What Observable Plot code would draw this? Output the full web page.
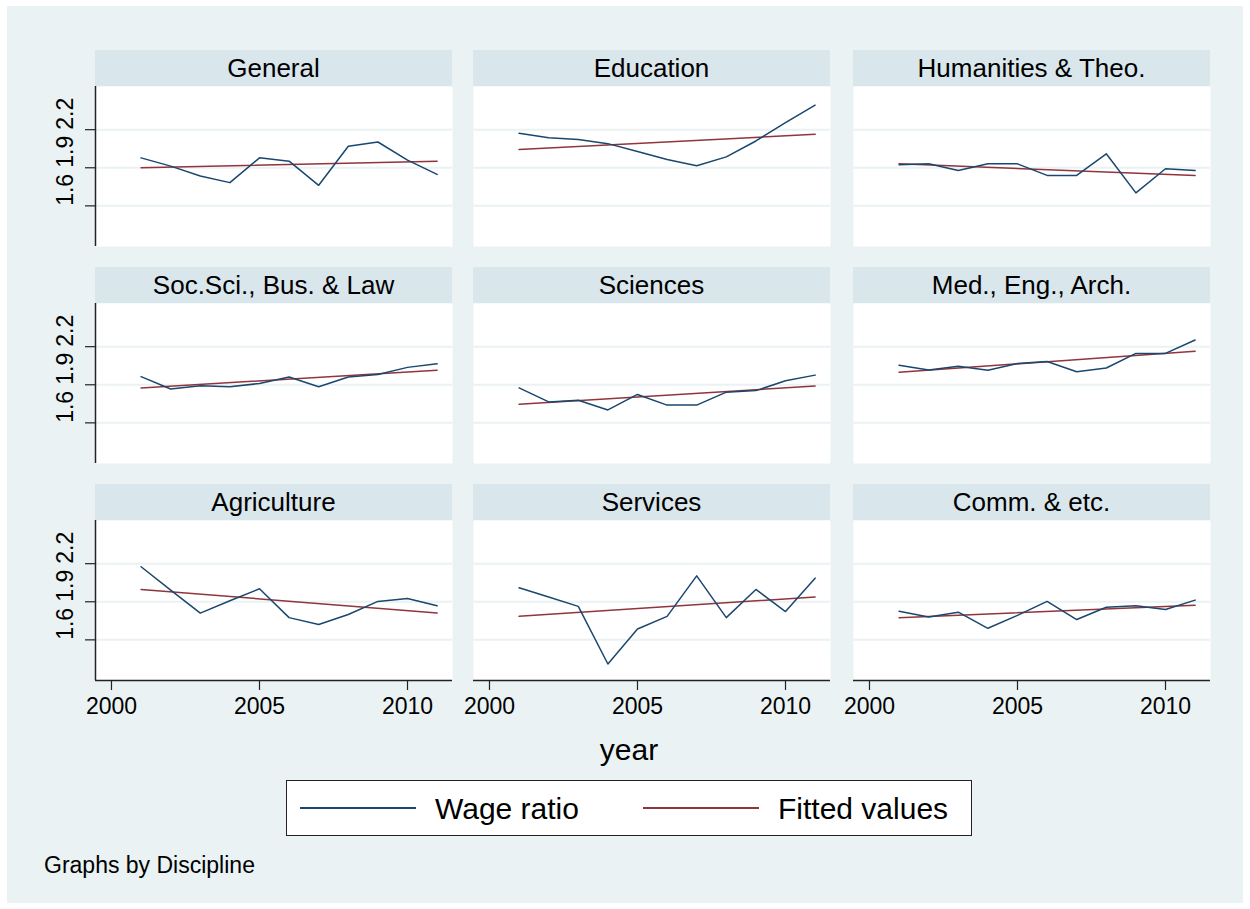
<!DOCTYPE html>
<html>
<head>
<meta charset="utf-8">
<script src="https://cdn.jsdelivr.net/npm/d3@7"></script>
<script src="https://cdn.jsdelivr.net/npm/@observablehq/plot@0.6"></script>
<style>
  html, body { margin: 0; padding: 0; background: #ffffff; width: 1250px; height: 909px; overflow: hidden; }
  body { position: relative; font-family: "Liberation Sans", Arial, sans-serif; color: #000; }
  #bg { position: absolute; left: 7px; top: 6px; width: 1236px; height: 897px; background: #EAF2F3; }
  .abs { position: absolute; }
  .strip { position: absolute; background: #D9E6EB; height: 36px; width: 357px; font-size: 26px; line-height: 36px; text-align: center; white-space: nowrap; }
  .panel { position: absolute; }
  #xtitle { position: absolute; left: 429px; width: 400px; top: 731px; font-size: 30px; line-height: 38px; text-align: center; }
  #legend { position: absolute; left: 286px; top: 780px; width: 684px; height: 54px; background: #fff; border: 1px solid #222; }
  #caption { position: absolute; left: 44px; top: 851px; font-size: 23px; line-height: 28px; }
</style>
</head>
<body>
<div id="bg"></div>
<div id="root"></div>
<div id="xtitle">year</div>
<div id="legend"></div>
<div id="caption">Graphs by Discipline</div>
<script>
// ---- data ----
const disciplines = ["General", "Education", "Humanities & Theo.",
  "Soc.Sci., Bus. & Law", "Sciences", "Med., Eng., Arch.",
  "Agriculture", "Services", "Comm. & etc."];
const years = [2001, 2002, 2003, 2004, 2005, 2006, 2007, 2008, 2009, 2010, 2011];

const wageGeneral    = [1.978, 1.913, 1.835, 1.783, 1.978, 1.952, 1.762, 2.070, 2.103, 1.960, 1.848];
const wageEducation  = [2.171, 2.137, 2.122, 2.090, 2.028, 1.965, 1.916, 1.986, 2.111, 2.255, 2.393];
const wageHumanities = [1.923, 1.931, 1.879, 1.931, 1.931, 1.840, 1.840, 2.010, 1.702, 1.892, 1.879];
const wageSocSci     = [1.964, 1.867, 1.892, 1.885, 1.910, 1.961, 1.885, 1.961, 1.981, 2.037, 2.065];
const wageSciences   = [1.875, 1.765, 1.778, 1.702, 1.824, 1.740, 1.740, 1.842, 1.854, 1.931, 1.976];
const wageMed        = [2.053, 2.017, 2.045, 2.014, 2.068, 2.083, 2.002, 2.032, 2.147, 2.147, 2.253];
const wageAgri       = [2.176, 1.992, 1.811, 1.908, 2.002, 1.775, 1.721, 1.800, 1.903, 1.926, 1.869];
const wageServices   = [2.010, 1.938, 1.864, 1.410, 1.686, 1.785, 2.104, 1.775, 1.997, 1.823, 2.086];
const wageComm       = [1.826, 1.780, 1.818, 1.691, 1.793, 1.903, 1.760, 1.857, 1.869, 1.839, 1.913];

// fitted (linear) values at the first and last year
const fitYears   = [2001, 2011];
const fitGeneral    = [1.900, 1.952];
const fitEducation  = [2.043, 2.163];
const fitHumanities = [1.931, 1.840];
const fitSocSci     = [1.875, 2.014];
const fitSciences   = [1.747, 1.890];
const fitMed        = [1.999, 2.164];
const fitAgri       = [1.997, 1.811];
const fitServices   = [1.785, 1.938];
const fitComm       = [1.775, 1.872];

const yTicks = [1.6, 1.9, 2.2];
const xTicks = [2000, 2005, 2010];
const seriesNames = ["Wage ratio", "Fitted values"];

// ---- build ----
const wageSeries = [wageGeneral, wageEducation, wageHumanities, wageSocSci, wageSciences, wageMed, wageAgri, wageServices, wageComm];
const fitSeries = [fitGeneral, fitEducation, fitHumanities, fitSocSci, fitSciences, fitMed, fitAgri, fitServices, fitComm];

const xDomain = [1999.46, 2011.52];
const yDomain = [1.28, 2.54];
const colX = [95, 473, 853];
const stripTop = [50, 267, 484];
const PW = 357, PH = 160, SH = 36;
const navy = "#1A476F", maroon = "#90353B";
const font = "'Liberation Sans', Arial, sans-serif";

const root = document.getElementById("root");

disciplines.forEach((name, i) => {
  const col = i % 3, row = Math.floor(i / 3);
  const left = col === 0, bottom = row === 2;
  const mL = left ? 62 : 0, mB = bottom ? 48 : 0;

  const strip = document.createElement("div");
  strip.className = "strip";
  strip.style.left = colX[col] + "px";
  strip.style.top = stripTop[row] + "px";
  strip.textContent = name;
  root.appendChild(strip);

  const wage = years.map((y, k) => ({year: y, value: wageSeries[i][k]}));
  const fit = fitYears.map((y, k) => ({year: y, value: fitSeries[i][k]}));

  const marks = [
    Plot.frame({fill: "white", stroke: "none"}),
    Plot.gridY(yTicks, {stroke: "#EAF2F3", strokeOpacity: 1, strokeWidth: 2}),
    Plot.line(fit, {x: "year", y: "value", stroke: maroon, strokeWidth: 1.5}),
    Plot.line(wage, {x: "year", y: "value", stroke: navy, strokeWidth: 1.5})
  ];
  if (left) {
    marks.push(Plot.ruleX([xDomain[0]], {stroke: "#222", strokeWidth: 1.5}));
    marks.push(Plot.axisY(yTicks, {tickSize: 10, stroke: "#222", strokeWidth: 1.2, tickFormat: () => "", label: null}));
    marks.push(Plot.text(yTicks, {y: d => d, text: d => d.toFixed(1), frameAnchor: "left", dx: -30, rotate: -90, fontSize: 23, fill: "#000"}));
  }
  if (bottom) {
    marks.push(Plot.ruleY([yDomain[0]], {stroke: "#222", strokeWidth: 1.5}));
    marks.push(Plot.axisX(xTicks, {tickSize: 10, tickPadding: 7, stroke: "#222", strokeWidth: 1.2, fontSize: 23, tickFormat: d => String(d), label: null, fill: "#000"}));
  }

  const svg = Plot.plot({
    width: PW + mL,
    height: PH + mB,
    marginLeft: mL, marginRight: 0, marginTop: 0, marginBottom: mB,
    x: {domain: xDomain, axis: null},
    y: {domain: yDomain, axis: null},
    style: {background: "transparent", overflow: "visible", fontFamily: font, color: "#000"},
    marks
  });
  const wrap = document.createElement("div");
  wrap.className = "panel";
  wrap.style.left = (colX[col] - mL) + "px";
  wrap.style.top = (stripTop[row] + SH) + "px";
  wrap.appendChild(svg);
  root.appendChild(wrap);
});

// ---- legend ----
const legend = document.getElementById("legend");
const lg = d3.select(legend).append("svg").attr("width", 684).attr("height", 54).style("display", "block");
const legendItems = [{name: seriesNames[0], color: navy, x0: 13}, {name: seriesNames[1], color: maroon, x0: 356}];
legendItems.forEach(it => {
  lg.append("line").attr("x1", it.x0).attr("x2", it.x0 + 116).attr("y1", 27).attr("y2", 27)
    .attr("stroke", it.color).attr("stroke-width", 2);
  lg.append("text").attr("x", it.x0 + 135).attr("y", 27).attr("dy", "0.36em")
    .attr("font-size", 30).attr("font-family", font).attr("fill", "#000").text(it.name);
});
</script>
</body>
</html>
